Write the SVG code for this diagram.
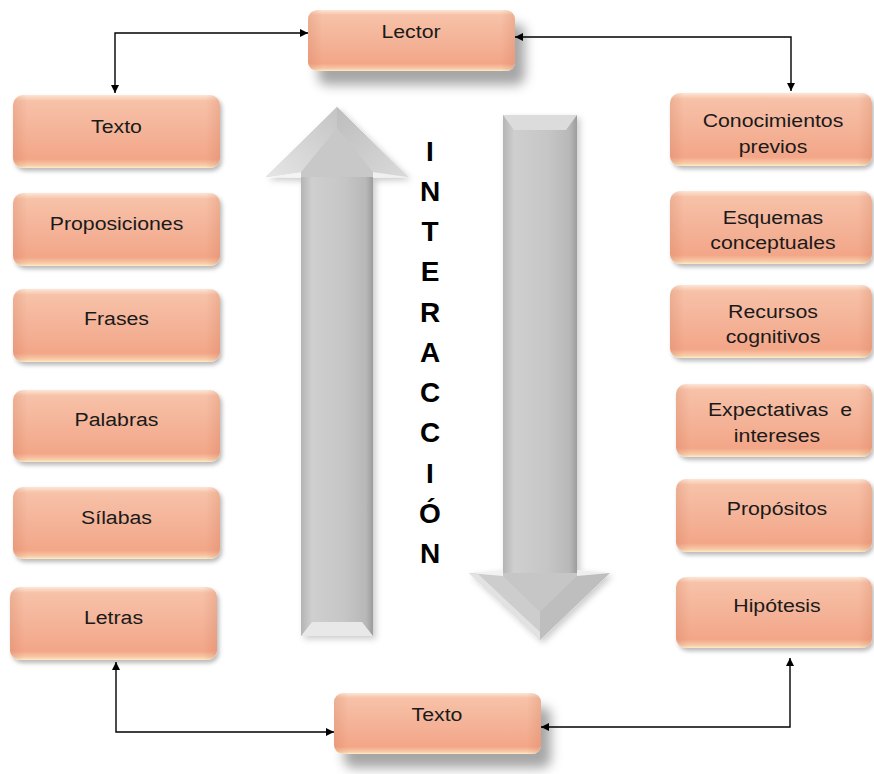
<svg xmlns="http://www.w3.org/2000/svg" width="874" height="774" viewBox="0 0 874 774">
<defs>
<linearGradient id="boxV" x1="0" y1="0" x2="0" y2="1">
<stop offset="0" stop-color="#fde6d6"/>
<stop offset="0.08" stop-color="#f7c2a8"/>
<stop offset="0.5" stop-color="#f4b398"/>
<stop offset="0.88" stop-color="#f3a688"/>
<stop offset="0.96" stop-color="#f8c9a6"/>
<stop offset="1" stop-color="#fdecc6"/>
</linearGradient>
<linearGradient id="boxH" x1="0" y1="0" x2="1" y2="0">
<stop offset="0" stop-color="#c86e4c" stop-opacity="0.22"/>
<stop offset="0.07" stop-color="#c86e4c" stop-opacity="0"/>
<stop offset="0.93" stop-color="#c86e4c" stop-opacity="0"/>
<stop offset="1" stop-color="#c86e4c" stop-opacity="0.22"/>
</linearGradient>
<linearGradient id="shaftG" x1="0" y1="0" x2="1" y2="0">
<stop offset="0" stop-color="#b4b4b4"/>
<stop offset="0.15" stop-color="#cfcfcf"/>
<stop offset="0.6" stop-color="#c6c6c6"/>
<stop offset="0.9" stop-color="#b8b8b8"/>
<stop offset="1" stop-color="#9c9c9c"/>
</linearGradient>
<linearGradient id="headL" x1="0" y1="1" x2="1" y2="0">
<stop offset="0" stop-color="#e6e6e6"/>
<stop offset="1" stop-color="#c4c4c4"/>
</linearGradient>
<linearGradient id="headR" x1="0" y1="0" x2="1" y2="1">
<stop offset="0" stop-color="#bdbdbd"/>
<stop offset="1" stop-color="#dadada"/>
</linearGradient>
<filter id="sh" x="-10%" y="-20%" width="125%" height="150%">
<feDropShadow dx="2" dy="3" stdDeviation="2" flood-color="#000" flood-opacity="0.28"/>
</filter>
<filter id="shBig" x="-10%" y="-20%" width="135%" height="190%">
<feDropShadow dx="10" dy="14" stdDeviation="6" flood-color="#000" flood-opacity="0.35"/>
</filter>
<filter id="shArrow" x="-20%" y="-5%" width="150%" height="115%">
<feDropShadow dx="3" dy="3" stdDeviation="3" flood-color="#000" flood-opacity="0.2"/>
</filter>
<marker id="ah" viewBox="0 0 10 10" refX="10" refY="5" markerUnits="userSpaceOnUse" markerWidth="9" markerHeight="8" orient="auto-start-reverse">
<path d="M0,0 L10,5 L0,10 z" fill="#000"/>
</marker>
</defs>
<style>
.b{fill:url(#boxV);filter:url(#sh)}
.bb{fill:url(#boxV);filter:url(#shBig)}
.h{fill:url(#boxH)}
.t{font-family:"Liberation Sans",Arial,sans-serif;font-size:19px;fill:#1a1a1a;text-anchor:middle}
.big{font-family:"Liberation Sans",Arial,sans-serif;font-size:28px;font-weight:bold;fill:#000;text-anchor:middle}
.c{fill:none;stroke:#000;stroke-width:1.4;marker-start:url(#ah);marker-end:url(#ah)}
</style>
<rect width="874" height="774" fill="#fff"/>

<!-- gray arrows -->
<g id="arrow-up" filter="url(#shArrow)">
<polygon points="301,176 373,176 373,636 301,636" fill="url(#shaftG)"/>
<polygon points="337,107 266,177 408,177" fill="#c8c8c8"/>
<polygon points="337,107 266,177 301,172 337,128" fill="url(#headL)"/>
<polygon points="337,107 408,177 373,172 337,128" fill="url(#headR)"/>
<polygon points="266,177 301,172 301,178" fill="#f4f4f4"/>
<polygon points="408,177 373,172 373,178" fill="#f0f0f0"/>
<polygon points="301,636 312,622 362,622 373,636" fill="#e8e8e8"/>
</g>
<g id="arrow-down" filter="url(#shArrow)">
<polygon points="503,115 577,115 577,575 503,575" fill="url(#shaftG)"/>
<polygon points="503,115 577,115 566,130 514,130" fill="#dcdcdc"/>
<polygon points="469,573 540,573 540,640" fill="#cdcdcd"/>
<polygon points="540,573 610,573 540,640" fill="#bebebe"/>
<polygon points="503,576 540,612 577,576 577,573 503,573" fill="#c6c6c6"/>
<polygon points="469,573 503,576 503,570" fill="#f2f2f2"/>
<polygon points="610,573 577,576 577,570" fill="#eeeeee"/>
<polygon points="469,573 540,640 540,632 478,574" fill="#e2e2e2"/>
</g>

<g id="interaccion">
<text class="big" x="430" y="161">I</text>
<text class="big" x="430" y="201">N</text>
<text class="big" x="430" y="241">T</text>
<text class="big" x="430" y="281">E</text>
<text class="big" x="430" y="322">R</text>
<text class="big" x="430" y="362">A</text>
<text class="big" x="430" y="402">C</text>
<text class="big" x="430" y="442">C</text>
<text class="big" x="430" y="483">I</text>
<text class="big" x="430" y="523">Ó</text>
<text class="big" x="430" y="563">N</text>
</g>

<!-- connectors -->
<g id="connectors">
<path class="c" d="M308,33 H115 V93"/>
<path class="c" d="M515,37 H791 V91"/>
<path class="c" d="M116,662 V732 H334"/>
<path class="c" d="M790,658 V727 H541"/>
</g>

<!-- top / bottom nodes -->
<g id="lector"><rect class="bb" x="308" y="10" width="207" height="61" rx="9"/><rect class="h" x="308" y="10" width="207" height="61" rx="9"/><text class="t" transform="translate(411,38) scale(1.12,1)">Lector</text></g>
<g id="texto-bottom"><rect class="bb" x="334" y="693" width="207" height="61" rx="9"/><rect class="h" x="334" y="693" width="207" height="61" rx="9"/><text class="t" transform="translate(437,721) scale(1.12,1)">Texto</text></g>

<!-- left column -->
<g id="texto"><rect class="b" x="13" y="95" width="207" height="73" rx="10"/><rect class="h" x="13" y="95" width="207" height="73" rx="10"/><text class="t" transform="translate(116.5,133) scale(1.12,1)">Texto</text></g>
<g id="proposiciones"><rect class="b" x="13" y="193" width="207" height="73" rx="10"/><rect class="h" x="13" y="193" width="207" height="73" rx="10"/><text class="t" transform="translate(116.5,230) scale(1.12,1)">Proposiciones</text></g>
<g id="frases"><rect class="b" x="13" y="289" width="207" height="73" rx="10"/><rect class="h" x="13" y="289" width="207" height="73" rx="10"/><text class="t" transform="translate(116.5,325) scale(1.12,1)">Frases</text></g>
<g id="palabras"><rect class="b" x="13" y="390" width="207" height="72" rx="10"/><rect class="h" x="13" y="390" width="207" height="72" rx="10"/><text class="t" transform="translate(116.5,426) scale(1.12,1)">Palabras</text></g>
<g id="silabas"><rect class="b" x="13" y="487" width="207" height="72" rx="10"/><rect class="h" x="13" y="487" width="207" height="72" rx="10"/><text class="t" transform="translate(116.5,524) scale(1.12,1)">Sílabas</text></g>
<g id="letras"><rect class="b" x="10" y="587" width="207" height="73" rx="10"/><rect class="h" x="10" y="587" width="207" height="73" rx="10"/><text class="t" transform="translate(113.5,624) scale(1.12,1)">Letras</text></g>

<!-- right column -->
<g id="conocimientos"><rect class="b" x="670" y="93" width="202" height="73" rx="10"/><rect class="h" x="670" y="93" width="202" height="73" rx="10"/><text class="t" transform="translate(773,127) scale(1.12,1)">Conocimientos</text><text class="t" transform="translate(773,153) scale(1.12,1)">previos</text></g>
<g id="esquemas"><rect class="b" x="670" y="191" width="202" height="73" rx="10"/><rect class="h" x="670" y="191" width="202" height="73" rx="10"/><text class="t" transform="translate(773,224) scale(1.12,1)">Esquemas</text><text class="t" transform="translate(773,249) scale(1.12,1)">conceptuales</text></g>
<g id="recursos"><rect class="b" x="670" y="285" width="202" height="73" rx="10"/><rect class="h" x="670" y="285" width="202" height="73" rx="10"/><text class="t" transform="translate(773,318) scale(1.12,1)">Recursos</text><text class="t" transform="translate(773,343) scale(1.12,1)">cognitivos</text></g>
<g id="expectativas"><rect class="b" x="676" y="384" width="196" height="73" rx="10"/><rect class="h" x="676" y="384" width="196" height="73" rx="10"/><text class="t" style="white-space:pre" transform="translate(780,416) scale(1.12,1)">Expectativas  e</text><text class="t" transform="translate(777,442) scale(1.12,1)">intereses</text></g>
<g id="propositos"><rect class="b" x="676" y="479" width="196" height="73" rx="10"/><rect class="h" x="676" y="479" width="196" height="73" rx="10"/><text class="t" transform="translate(777,515) scale(1.12,1)">Propósitos</text></g>
<g id="hipotesis"><rect class="b" x="676" y="577" width="196" height="71" rx="10"/><rect class="h" x="676" y="577" width="196" height="71" rx="10"/><text class="t" transform="translate(777,612) scale(1.12,1)">Hipótesis</text></g>
</svg>
